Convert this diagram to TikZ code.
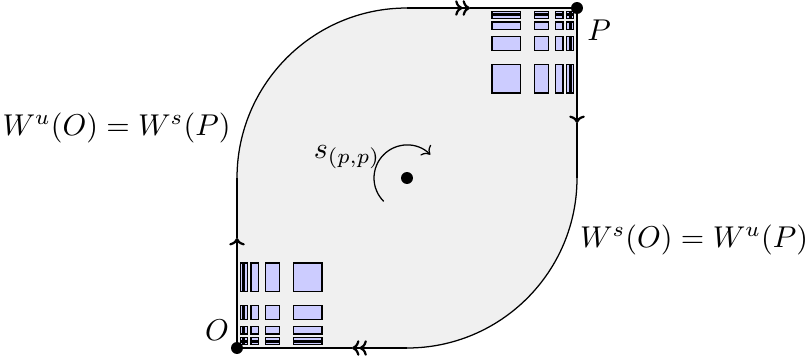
\documentclass[tikz,border=0pt]{standalone}
\usetikzlibrary{arrows.meta}
\definecolor{regionfill}{HTML}{F0F0F0}
\definecolor{boxfill}{HTML}{CCCCFF}
\tikzset{
  thinedge/.style={line width=0.4pt, black},
  flowedge/.style={line width=0.7pt, black},
  onetip/.style={-{To[scale=0.75]}},
  twotip/.style={-{To[scale=0.75]To[scale=0.75]}},
  cellbox/.style={draw=black, line width=0.45pt, fill=boxfill},
  fixpt/.style={circle, fill=black, inner sep=0pt, minimum size=3.8pt},
  lbl/.style={inner sep=0pt, scale=0.955}
}
\begin{document}
\begin{tikzpicture}[x=0.3175pt,y=0.3175pt]
\useasboundingbox (0,0) rectangle (806,362);
% key points
\coordinate (O) at (237,14);
\coordinate (P) at (577,354);
\coordinate (L) at (237,184);
\coordinate (T) at (407,354);
\coordinate (R) at (577,184);
\coordinate (B) at (407,14);
\coordinate (C) at (407,184);
\coordinate (la) at (237,124);
\coordinate (ta) at (470,354);
\coordinate (ra) at (577,239);
\coordinate (ba) at (352,14);
% region
\fill[regionfill] (O) -- (L) arc[start angle=180,end angle=90,radius=170] -- (P) -- (R) arc[start angle=0,end angle=-90,radius=170] -- cycle;
% boxes near O and P
\foreach \i in {0,...,4}{
  \foreach \j in {0,...,4}{
    \pgfmathsetmacro\ai{56.67/2^\i}
    \pgfmathsetmacro\aj{56.67/2^\j}
    \draw[cellbox] ({237+\ai},{14+\aj}) rectangle ({237+1.5*\ai},{14+1.5*\aj});
    \draw[cellbox] ({577-\ai},{354-\aj}) rectangle ({577-1.5*\ai},{354-1.5*\aj});
  }
}
% boundary
\draw[flowedge,onetip] (O) -- (la);
\draw[thinedge] (la) -- (L);
\draw[thinedge] (L) arc[start angle=180,end angle=90,radius=170];
\draw[flowedge,twotip] (T) -- (ta);
\draw[thinedge] (ta) -- (P);
\draw[flowedge,onetip] (P) -- (ra);
\draw[thinedge] (ra) -- (R);
\draw[thinedge] (R) arc[start angle=0,end angle=-90,radius=170];
\draw[flowedge,twotip] (B) -- (ba);
\draw[thinedge] (ba) -- (O);
% rotation
\draw[thinedge,-{To[scale=0.9]}] ([shift={(225:33)}]C) arc[start angle=225,end angle=45,radius=33];
\node[fixpt] (c) at (C) {};
\node[fixpt] (o) at (O) {};
\node[fixpt] (p) at (P) {};
% labels
\node[lbl] (lo) at (217,32) {$O$};
\node[lbl] (lp) at (599,332) {$P$};
\node[lbl] (ls) at (347,205) {$s_{(p,p)}$};
\node[lbl] (lw1) at (116.5,234) {$W^u(O)=W^s(P)$};
\node[lbl] (lw2) at (694,122) {$W^s(O)=W^u(P)$};
\end{tikzpicture}
\end{document}
